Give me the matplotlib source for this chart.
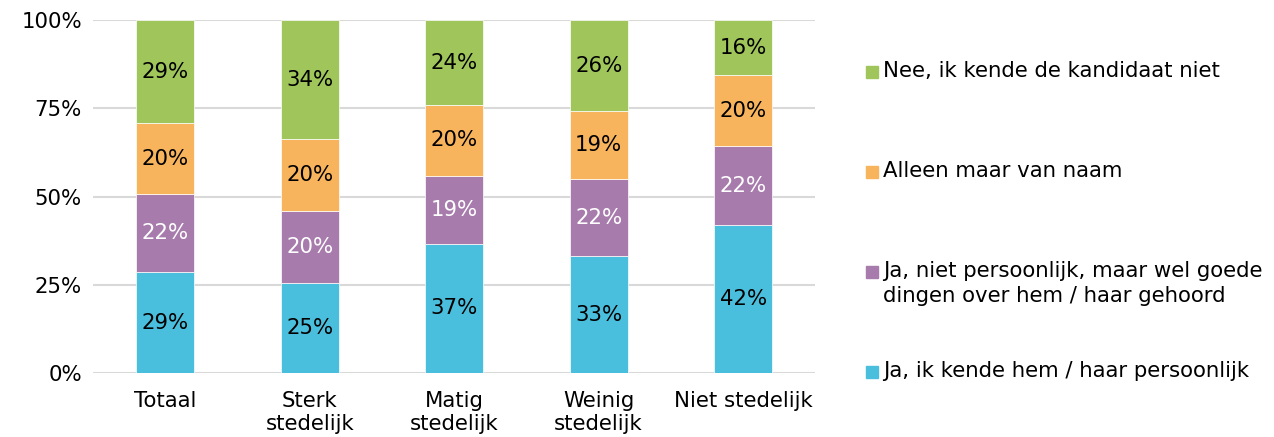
import numpy as np
import matplotlib.pyplot as plt
from matplotlib.patches import Rectangle

categories = ["Totaal", "Sterk\nstedelijk", "Matig\nstedelijk", "Weinig\nstedelijk", "Niet stedelijk"]

# aandeel per antwoord (%), van onder naar boven gestapeld
ja_persoonlijk = [28.6, 25.4, 36.6, 33.1, 41.9]
ja_niet_persoonlijk = [22.1, 20.4, 19.3, 21.9, 22.4]
alleen_naam = [20.1, 20.4, 20.0, 19.2, 20.1]
nee = [29.2, 33.8, 24.1, 25.8, 15.6]

series_labels = [
    "Ja, ik kende hem / haar persoonlijk",
    "Ja, niet persoonlijk, maar wel goede\ndingen over hem / haar gehoord",
    "Alleen maar van naam",
    "Nee, ik kende de kandidaat niet",
]
series = [ja_persoonlijk, ja_niet_persoonlijk, alleen_naam, nee]
colors = ["#4abfdd", "#a87bad", "#f8b45c", "#a0c55a"]
text_colors = ["black", "white", "black", "black"]

plt.rcParams["font.family"] = "DejaVu Sans"
fs = 15.3

fig = plt.figure(figsize=(12.74, 4.37), dpi=100)
ax = fig.add_axes([0.073, 0.1465, 0.567, 0.8075])

x = np.arange(len(categories))
bottom = np.zeros(len(categories))
for vals, col, tcol in zip(series, colors, text_colors):
    vals = np.array(vals)
    ax.bar(x, vals, 0.4, bottom=bottom, color=col, edgecolor="white", linewidth=0.5, zorder=3)
    for xi, b, v in zip(x, bottom, vals):
        ax.text(xi, b + v / 2, f"{v:.0f}%", ha="center", va="center", fontsize=fs, color=tcol, zorder=4)
    bottom += vals

ax.set_xlim(-0.5, len(categories) - 0.5)
ax.set_ylim(0, 100)
ax.set_yticks([0, 25, 50, 75, 100])
ax.set_yticklabels(["0%", "25%", "50%", "75%", "100%"], fontsize=fs)
ax.set_xticks(x)
ax.set_xticklabels(categories, fontsize=fs, linespacing=1.2, va="top")
ax.tick_params(length=0, pad=8)
ax.tick_params(axis="x", pad=13)
ax.grid(axis="y", color="#d9d9d9", linewidth=1.5, zorder=0)
for s in ax.spines.values():
    s.set_visible(False)

# legenda rechts, van boven naar beneden in omgekeerde volgorde
W, H = 1274, 437
leg_y = [72, 172, 272, 372]
for lab, col, yy in zip(series_labels[::-1], colors[::-1], leg_y):
    fig.patches.append(Rectangle((866 / W, 1 - (yy + 6) / H), 12 / W, 12 / H,
                                 transform=fig.transFigure, color=col))
    fig.text(883 / W, 1 - (yy - 11) / H, lab, fontsize=fs, va="top", ha="left", linespacing=1.3)

fig.savefig("out.png", dpi=100)
